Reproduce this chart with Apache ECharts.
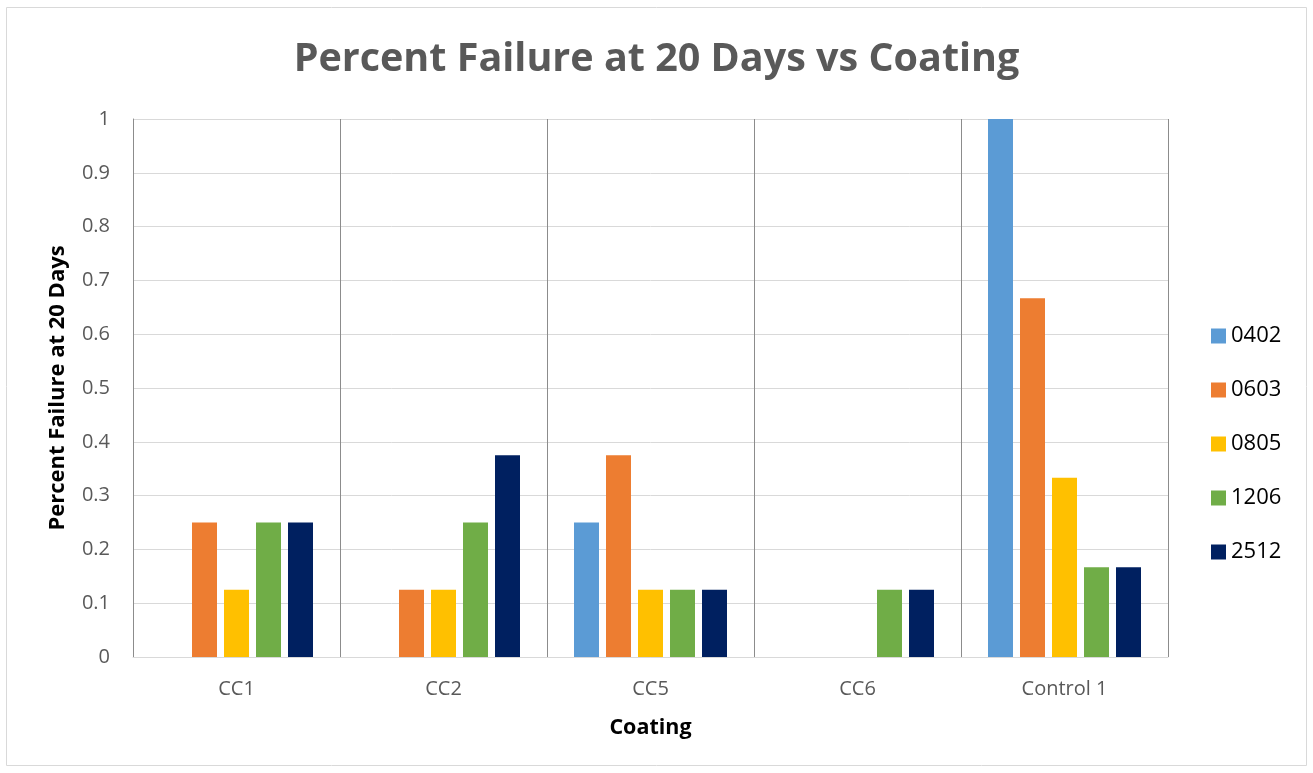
<!DOCTYPE html>
<html><head><meta charset="utf-8">
<script src="https://cdn.jsdelivr.net/npm/echarts@6/dist/echarts.min.js"></script>
<style>html,body{margin:0;padding:0;background:#fff;}#c{width:1313px;height:773px;}</style>
</head><body><div id="c"></div>
<script>
var categories = ['CC1', 'CC2', 'CC5', 'CC6', 'Control 1'];
var seriesNames = ['0402', '0603', '0805', '1206', '2512'];
var s0402 = [0, 0, 0.25, 0, 1];
var s0603 = [0.25, 0.125, 0.375, 0, 0.667];
var s0805 = [0.125, 0.125, 0.125, 0, 0.333];
var s1206 = [0.25, 0.25, 0.125, 0.125, 0.167];
var s2512 = [0.25, 0.375, 0.125, 0.125, 0.167];
var yTicks = [0, 0.1, 0.2, 0.3, 0.4, 0.5, 0.6, 0.7, 0.8, 0.9, 1];
var colors = ['#5B9BD5', '#ED7D31', '#FFC000', '#70AD47', '#002060'];
var values = [s0402, s0603, s0805, s1206, s2512];

var font = 'Open Sans';
var chart = echarts.init(document.getElementById('c'));
chart.setOption({
  animation: false,
  graphic: [{type:'rect', shape:{x:6.5,y:7.5,width:1300,height:758}, style:{fill:'none', stroke:'#d9d9d9', lineWidth:1}}],
  title: {text: 'Percent Failure at 20 Days vs Coating', left: 'center', top: 35,
    textStyle: {fontFamily: font, fontWeight: 'bold', fontSize: 39.5, color: '#595959'}},
  legend: {orient: 'vertical', left: 1206, top: 320, itemGap: 32, itemWidth: 15, itemHeight: 15,
    icon: 'rect', data: seriesNames,
    textStyle: {fontFamily: font, fontSize: 22, color: '#000'}},
  grid: {left: 133, right: 145, top: 119, bottom: 116},
  xAxis: {type: 'category', data: categories,
    name: 'Coating', nameLocation: 'middle', nameGap: 60,
    nameTextStyle: {fontFamily: font, fontWeight: 'bold', fontSize: 21.5, color: '#000'},
    axisLine: {lineStyle: {color: '#d9d9d9', width: 1}},
    axisTick: {show: false},
    axisLabel: {fontFamily: font, fontSize: 20, color: '#595959', margin: 22},
    splitLine: {show: true, lineStyle: {color: '#8c8c8c', width: 1}}},
  yAxis: {type: 'value', min: 0, max: 1, interval: 0.1,
    name: 'Percent Failure at 20 Days', nameLocation: 'middle', nameGap: 64,
    nameTextStyle: {fontFamily: font, fontWeight: 'bold', fontSize: 22, color: '#000'},
    axisLine: {show: true, lineStyle: {color: '#8c8c8c'}},
    axisTick: {show: false},
    axisLabel: {fontFamily: font, fontSize: 20, color: '#595959', margin: 23,
      formatter: function(v){ return String(Math.round(v*10)/10); }},
    splitLine: {show: true, lineStyle: {color: '#d9d9d9', width: 1}}},
  series: seriesNames.map(function(n, i){
    return {name: n, type: 'bar', data: values[i], barWidth: 25, barGap: '28%',
      itemStyle: {color: colors[i]}};
  })
});
</script></body></html>
